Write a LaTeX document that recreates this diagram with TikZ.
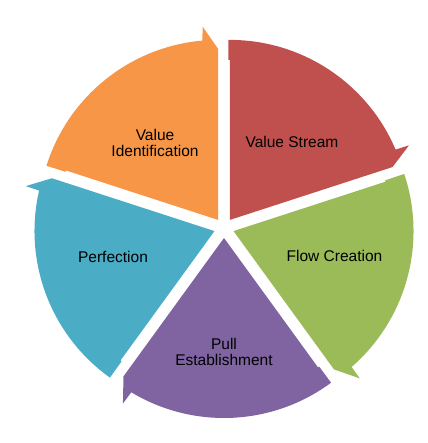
\documentclass[tikz,border=0pt]{standalone}
\usepackage{fontspec}
\setmainfont{Liberation Sans}
\usepackage{tikz}
\usetikzlibrary{positioning,calc}

\definecolor{segorange}{HTML}{F79646}
\definecolor{segred}{HTML}{C0504D}
\definecolor{seggreen}{HTML}{9BBB59}
\definecolor{segpurple}{HTML}{8064A2}
\definecolor{segblue}{HTML}{4BACC6}

\begin{document}
\begin{tikzpicture}[
    x=1pt, y=1pt,
    segment/.style={draw=none},
    label/.style={text=black, align=center, font=\fontsize{15.5}{16.5}\selectfont}
]
    \useasboundingbox (0,0) rectangle (427,443);

    % Hub and segment apexes
    \coordinate (hub) at (224,215);
    \coordinate (vi apex) at ($(hub)+(126:10)$);
    \coordinate (vs apex) at ($(hub)+(54:10)$);
    \coordinate (fc apex) at ($(hub)+(-18:10)$);
    \coordinate (pe apex) at ($(hub)+(-90:10)$);
    \coordinate (pf apex) at ($(hub)+(-162:10)$);

    % Segments
    \fill[segment, segorange, shift={(vi apex)}] (0,0) -- (162:160) -- (162.5:160) -- (162.5:180)
        arc[start angle=162.5, end angle=95, radius=180] -- (94.6:194) -- (90:171) -- cycle;
    \fill[segment, segred, shift={(vs apex)}] (0,0) -- (90:160) -- (90.5:160) -- (90.5:180)
        arc[start angle=90.5, end angle=23, radius=180] -- (22.6:194) -- (18:171) -- cycle;
    \fill[segment, seggreen, shift={(fc apex)}] (0,0) -- (18:160) -- (18.5:160) -- (18.5:180)
        arc[start angle=18.5, end angle=-49, radius=180] -- (-49.4:194) -- (-54:171) -- cycle;
    \fill[segment, segpurple, shift={(pe apex)}] (0,0) -- (-54:160) -- (-53.5:160) -- (-53.5:180)
        arc[start angle=-53.5, end angle=-121, radius=180] -- (-121.4:194) -- (-126:171) -- cycle;
    \fill[segment, segblue, shift={(pf apex)}] (0,0) -- (-126:160) -- (-125.5:160) -- (-125.5:180)
        arc[start angle=-125.5, end angle=-193, radius=180] -- (-193.4:194) -- (-198:171) -- cycle;

    % Labels
    \node[label] (vi) at (155,300) {Value\\Identification};
    \node[label] (vs) at (292,301) {Value Stream};
    \node[label] (fc) at (334.5,187) {Flow Creation};
    \node[label] (pe) at (224,91) {Pull\\Establishment};
    \node[label] (pf) at (113,186.5) {Perfection};
\end{tikzpicture}
\end{document}
